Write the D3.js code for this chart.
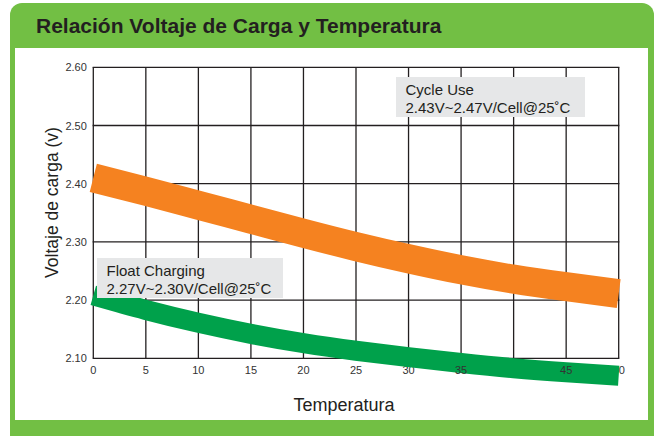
<!DOCTYPE html>
<html>
<head>
<meta charset="utf-8">
<script src="https://cdn.jsdelivr.net/npm/d3@7"></script>
<style>
  html, body { margin: 0; padding: 0; background: #ffffff; }
  svg { display: block; }
  text { font-family: "Liberation Sans", Arial, Helvetica, sans-serif; }
</style>
</head>
<body>
<div id="chart"></div>
<script>
// ---- data ----
const title = "Relación Voltaje de Carga y Temperatura";
const xTitle = "Temperatura";
const yTitle = "Voltaje de carga (v)";
const temperatures = [0, 5, 10, 15, 20, 25, 30, 35, 40, 45, 50];
const cycleUse = [2.410, 2.387, 2.363, 2.339, 2.315, 2.292, 2.271, 2.252, 2.236, 2.223, 2.211];
const floatCharging = [2.208, 2.183, 2.161, 2.142, 2.126, 2.113, 2.102, 2.092, 2.083, 2.076, 2.070];
const xTicks = [0, 5, 10, 15, 20, 25, 30, 35, 40, 45, 50];
const xTickLabels = ["0", "5", "10", "15", "20", "25", "30", "35", "45", "50"];
const yTicks = [2.10, 2.20, 2.30, 2.40, 2.50, 2.60];
const cycleLabel = ["Cycle Use", "2.43V~2.47V/Cell@25˚C"];
const floatLabel = ["Float Charging", "2.27V~2.30V/Cell@25˚C"];

// ---- layout ----
const W = 658, H = 436;
const svg = d3.select("#chart").append("svg").attr("width", W).attr("height", H);

// frame
svg.append("rect").attr("x", 10).attr("y", 3).attr("width", 644).attr("height", 460)
  .attr("rx", 12).attr("fill", "#72bf44");
svg.append("rect").attr("x", 15).attr("y", 48).attr("width", 633).attr("height", 372)
  .attr("fill", "#ffffff");
svg.append("text").attr("x", 36).attr("y", 33).text(title)
  .attr("font-size", 21).attr("font-weight", "bold").attr("fill", "#231f20");

const x = d3.scaleLinear().domain([0, 50]).range([93.3, 618.7]);
const y = d3.scaleLinear().domain([2.1, 2.6]).range([358.3, 67.3]);

const g = svg.append("g");
// grid
g.selectAll("line.vx").data(xTicks).enter().append("line")
  .attr("x1", d => x(d)).attr("x2", d => x(d))
  .attr("y1", y(2.6)).attr("y2", y(2.1))
  .attr("stroke", "#231f20").attr("stroke-width", 1.3);
g.selectAll("line.hy").data(yTicks).enter().append("line")
  .attr("x1", x(0) - 0.65).attr("x2", x(50) + 0.65)
  .attr("y1", d => y(d)).attr("y2", d => y(d))
  .attr("stroke", "#231f20").attr("stroke-width", 1.3);

// y tick labels
g.selectAll("text.yt").data(yTicks).enter().append("text")
  .attr("x", x(0) - 6.5).attr("y", d => y(d)).attr("dy", "0.38em")
  .attr("text-anchor", "end").attr("font-size", 11).attr("fill", "#333333")
  .text(d => d3.format(".2f")(d));

// x tick labels (some sit under the bands)
const under = ["30", "50"];
function xLabels(list) {
  g.selectAll(null).data(list).enter().append("text")
    .attr("x", d => x(+d)).attr("y", 374)
    .attr("text-anchor", "middle").attr("font-size", 11).attr("fill", "#333333")
    .text(d => d);
}
xLabels(xTickLabels.filter(d => under.includes(d)));

// bands
const line = d3.line().x(d => x(d[0])).y(d => y(d[1])).curve(d3.curveNatural);
g.append("path").datum(temperatures.map((t, i) => [t, cycleUse[i]]))
  .attr("d", line).attr("fill", "none").attr("stroke", "#f58220")
  .attr("stroke-width", 29).attr("stroke-linecap", "butt");
g.append("path").datum(temperatures.map((t, i) => [t, floatCharging[i]]))
  .attr("d", line).attr("fill", "none").attr("stroke", "#00a14b")
  .attr("stroke-width", 20).attr("stroke-linecap", "butt");

xLabels(xTickLabels.filter(d => !under.includes(d)));

// annotation boxes (drawn over the bands)
function box(x0, y0, w, h, lines) {
  g.append("rect").attr("x", x0).attr("y", y0).attr("width", w).attr("height", h)
    .attr("fill", "#e6e7e8");
  lines.forEach((t, i) => {
    g.append("text").attr("x", x0 + 9.5).attr("y", y0 + 18 + i * 17.5)
      .attr("font-size", 15).attr("fill", "#231f20").text(t);
  });
}
box(396, 77, 189, 40, cycleLabel);
box(97, 258, 186, 40, floatLabel);

// axis titles
svg.append("text").attr("x", 344).attr("y", 411).attr("text-anchor", "middle")
  .attr("font-size", 18).attr("fill", "#231f20").text(xTitle);
svg.append("text").attr("transform", "translate(58,202.5) rotate(-90)")
  .attr("text-anchor", "middle").attr("font-size", 17.5).attr("fill", "#231f20").text(yTitle);
</script>
</body>
</html>
